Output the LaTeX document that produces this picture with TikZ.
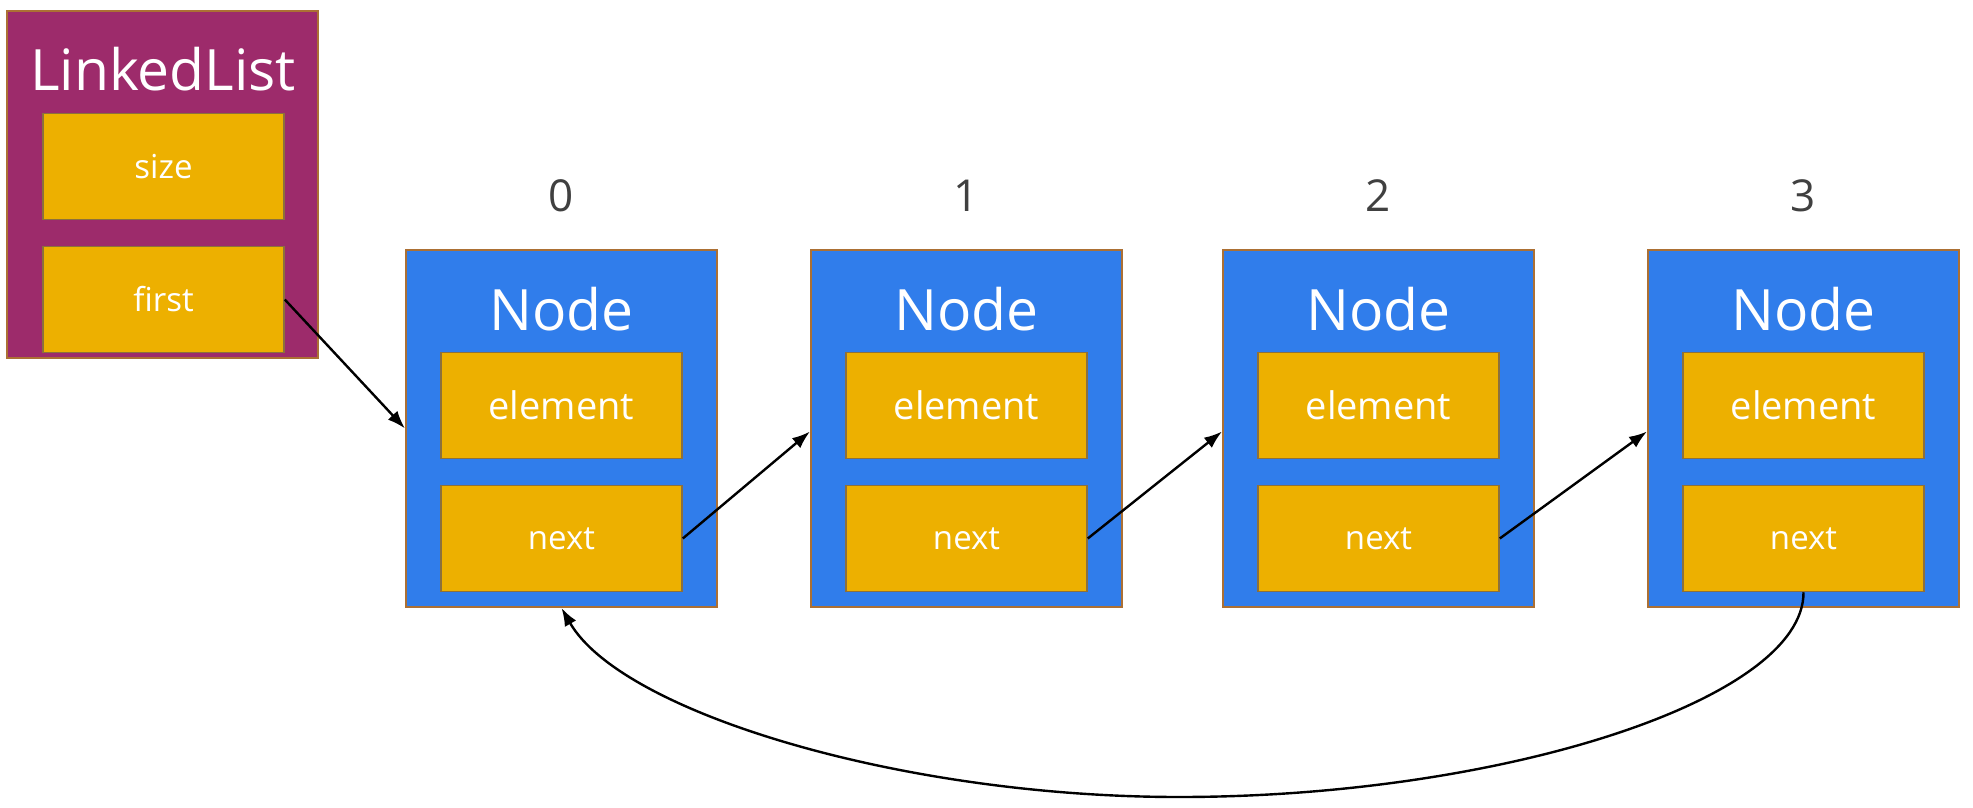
\documentclass[tikz,border=0pt]{standalone}
\usepackage{fontspec}
\setmainfont{Open Sans}
\usetikzlibrary{arrows.meta}
\definecolor{llpurple}{RGB}{157,43,107}
\definecolor{nodeblue}{RGB}{48,125,235}
\definecolor{fieldgold}{RGB}{237,176,0}
\definecolor{fieldedge}{RGB}{140,112,60}
\definecolor{boxedge}{RGB}{172,112,52}
\definecolor{idxgray}{RGB}{64,64,64}
\begin{document}
\begin{tikzpicture}[x=1pt,y=-1pt,
  outerbox/.style={draw=boxedge, line width=2pt, minimum width=311pt, inner sep=0pt},
  nodebox/.style={outerbox, fill=nodeblue, minimum height=357pt},
  listbox/.style={outerbox, fill=llpurple, minimum height=347pt},
  field/.style={draw=fieldedge, line width=1.5pt, fill=fieldgold, minimum width=241pt, minimum height=106pt, inner sep=0pt, text=white},
  title/.style={text=white, font=\fontsize{57}{60}\selectfont, anchor=base, inner sep=0pt},
  idx/.style={text=idxgray, font=\fontsize{44}{48}\selectfont, anchor=base, inner sep=0pt},
  bigf/.style={font=\fontsize{38}{40}\selectfont},
  smallf/.style={font=\fontsize{33}{36}\selectfont},
  link/.style={draw=black, line width=2.4pt, -{Latex[length=18pt,width=13pt]}}
]
\useasboundingbox (0,0) rectangle (1973,808);
\fill[white] (0,0) rectangle (1973,808);

% LinkedList
\node[listbox] (ll) at (162.5,184.5) {};
\node[title, font=\fontsize{57}{60}\selectfont] (llt) at (163,90) {LinkedList};
\node[field, smallf] (size) at (163.5,166.5) {size};
\node[field, smallf] (first) at (163.5,299.5) {first};

% Nodes
\foreach \i/\cx in {0/561.5,1/966.5,2/1378.5,3/1803.5}{
  \node[idx] (i\i) at (\cx,211) {\i};
  \node[nodebox] (n\i) at (\cx,428.5) {};
  \node[title] (t\i) at (\cx,330) {Node};
  \node[field, bigf] (e\i) at (\cx,405.5) {element};
  \node[field, smallf] (x\i) at (\cx,538.5) {next};
}

% links
\draw[link] (first.east) -- (n0.west);
\draw[link] (x0.east) -- ([yshift=-3pt]n1.west);
\draw[link] (x1.east) -- ([yshift=-3pt]n2.west);
\draw[link] (x2.east) -- ([yshift=-3pt]n3.west);
\coordinate (low) at (1179,797);
\draw[link] (x3.south) .. controls (1804,700) and (1500,797) .. (low)
  .. controls (900,797) and (621,712) .. (n0.south);
\end{tikzpicture}
\end{document}
